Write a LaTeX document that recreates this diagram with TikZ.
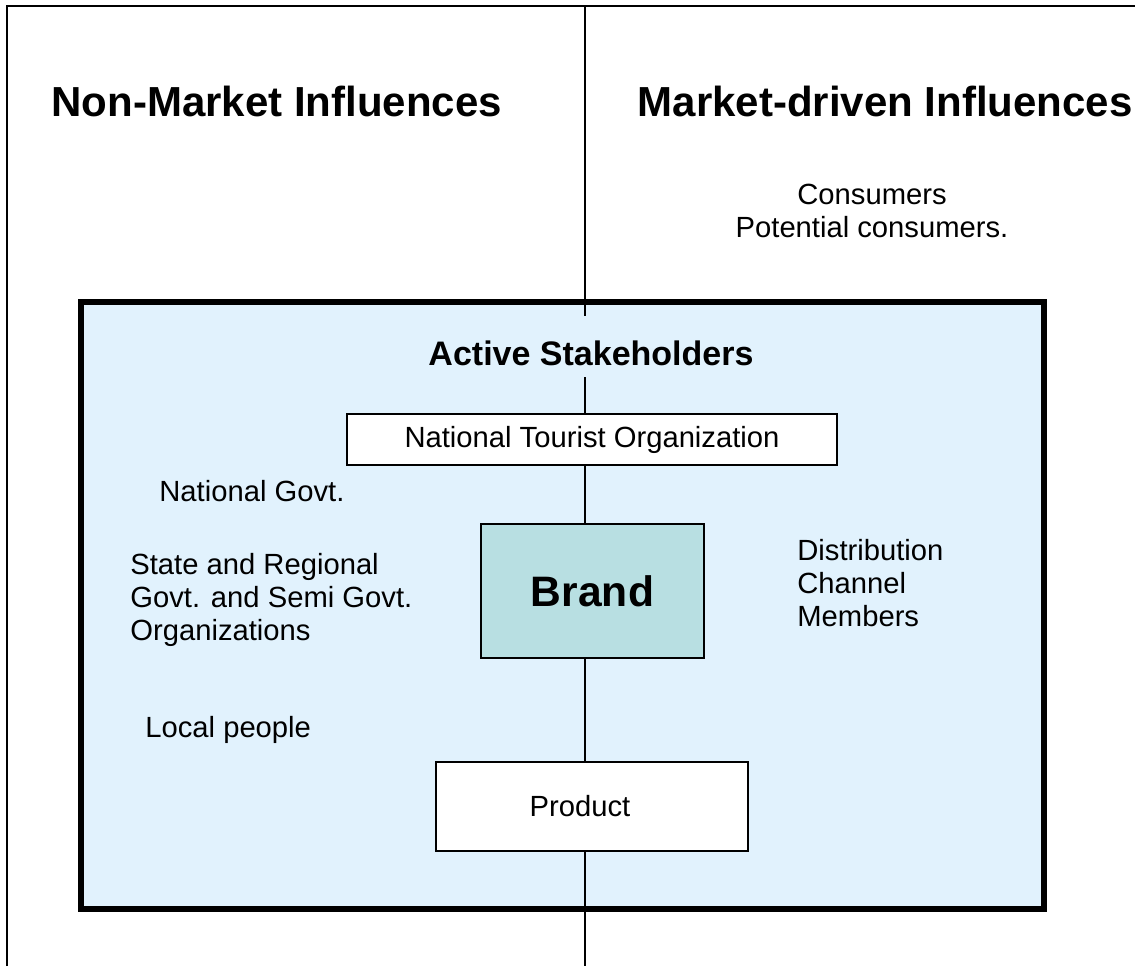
\documentclass[tikz,border=0pt]{standalone}
\usepackage{xcolor}
\usepackage{fontspec}
\setmainfont{Liberation Sans}

\definecolor{fondbleu}{RGB}{225,242,253}
\definecolor{marque}{RGB}{184,223,226}

\tikzset{
  titre/.style={font=\fontsize{21}{25}\selectfont\bfseries, inner sep=0pt},
  texte/.style={font=\fontsize{14.6}{16.5}\selectfont, inner sep=0pt, align=left},
  boite/.style={draw, line width=0.75pt, fill=white, inner sep=0pt,
    font=\fontsize{14.6}{16.5}\selectfont},
  trait/.style={line width=0.8pt}
}

\begin{document}
\begin{tikzpicture}[x=0.5pt,y=-0.5pt]
\useasboundingbox (0,0) rectangle (1140,966);
%\draw[help lines] (0,0) grid (1140,966);
\draw[line width=1pt] (7,966) -- (7,6) -- (1135,6); % cadre
\draw[line width=3pt, fill=fondbleu] (81,302) rectangle (1044,909);
\coordinate (haut) at (585,6);
\coordinate (bas) at (585,966);
\coordinate (coupeA) at (585,316);
\coordinate (coupeB) at (585,377);

\node[titre, anchor=base west] (nonmarche) at (51,116) {Non-Market Influences};
\node[titre, anchor=base east] (marche) at (1133,116) {Market-driven Influences};
\node[texte, align=center] (conso) at (872,210.5) {Consumers\\Potential consumers.};
\node[inner sep=0pt, font=\fontsize{17}{20}\selectfont\bfseries, anchor=base] (actifs) at (591,365) {Active Stakeholders};

\node[boite, minimum width=245pt, minimum height=25.5pt] (nto) at (592,439.5) {National Tourist Organization};
\node[boite, fill=marque, minimum width=111.5pt, minimum height=67pt,
  font=\fontsize{21.3}{25}\selectfont\bfseries] (brand) at (592.5,591) {Brand};
\node[boite, minimum width=156pt, minimum height=44.5pt] (prod) at (592,806.5) {Product\hspace*{12pt}};

\node[texte, anchor=base west] (natgov) at (159,501) {National Govt.};
\node[texte, anchor=west] (regional) at (130,600) {State and Regional\\Govt. and Semi Govt.\\Organizations};
\node[texte, anchor=base west] (local) at (145,737) {Local people};
\node[texte, anchor=west] (distrib) at (797,583) {Distribution\\Channel\\Members};

\draw[trait] (haut) -- (coupeA);
\draw[trait] (coupeB) -- (nto.north -| haut);
\draw[trait] (nto.south -| haut) -- (brand.north -| haut);
\draw[trait] (brand.south -| haut) -- (prod.north -| haut);
\draw[trait] (prod.south -| haut) -- (bas);
\end{tikzpicture}
\end{document}
